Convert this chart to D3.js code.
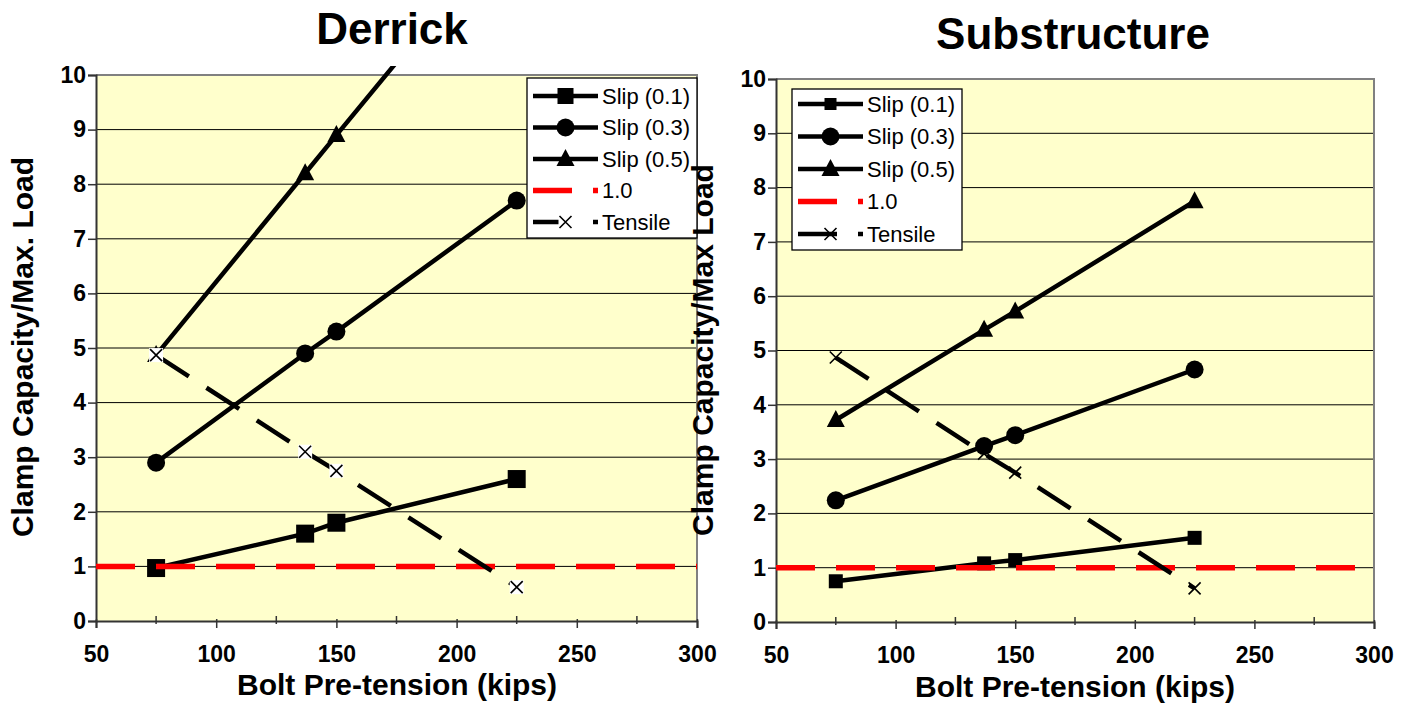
<!DOCTYPE html>
<html>
<head>
<meta charset="utf-8">
<script src="https://cdn.jsdelivr.net/npm/d3@7"></script>
<style>
  body { margin: 0; background: #fff; }
  text { font-family: Arial, "Liberation Sans", sans-serif; }
</style>
</head>
<body>
<div id="chart"></div>
<script>
// data
const boltPretension = [75, 137, 150, 225];
const derrickSlip01 = [0.97, 1.6, 1.8, 2.6];
const derrickSlip03 = [2.9, 4.9, 5.3, 7.7];
const derrickSlip05 = [4.87, 8.2, 8.9, 12.9];
const derrickTensile = [4.87, 3.1, 2.75, 0.62];
const subSlip01 = [0.75, 1.08, 1.14, 1.55];
const subSlip03 = [2.24, 3.24, 3.44, 4.65];
const subSlip05 = [3.72, 5.38, 5.72, 7.75];
const subTensile = [4.87, 3.1, 2.75, 0.62];
const refX = [50, 300];
const refY = [1, 1];
const seriesNames = ['Slip (0.1)', 'Slip (0.3)', 'Slip (0.5)', '1.0', 'Tensile'];
const xTickValues = [50, 100, 150, 200, 250, 300];
const xMinorTicks = [75, 125, 175, 225, 275];
const yTickValues = [0, 1, 2, 3, 4, 5, 6, 7, 8, 9, 10];

const svg = d3.select('#chart').append('svg')
  .attr('width', 1413)
  .attr('height', 704);

function marker(g, type, cx, cy, size, crossBg) {
  if (type === 'square') {
    g.append('rect')
      .attr('x', cx - size / 2).attr('y', cy - size / 2)
      .attr('width', size).attr('height', size)
      .style('fill', '#000');
  } else if (type === 'circle') {
    g.append('circle').attr('cx', cx).attr('cy', cy).attr('r', 9)
      .style('fill', '#000');
  } else if (type === 'triangle') {
    g.append('path')
      .attr('d', 'M' + cx + ',' + (cy - 10) + 'L' + (cx + 9) + ',' + (cy + 7) + 'L' + (cx - 9) + ',' + (cy + 7) + 'Z')
      .style('fill', '#000');
  } else if (type === 'cross') {
    if (crossBg) {
      g.append('rect')
        .attr('x', cx - 7).attr('y', cy - 7)
        .attr('width', 14).attr('height', 14)
        .style('fill', '#fff');
    }
    g.append('path')
      .attr('d', 'M' + (cx - 6) + ',' + (cy - 6) + 'L' + (cx + 6) + ',' + (cy + 6) +
                 'M' + (cx + 6) + ',' + (cy - 6) + 'L' + (cx - 6) + ',' + (cy + 6))
      .style('stroke', '#000').style('stroke-width', 1.6);
  }
}

function drawPanel(o) {
  const x = d3.scaleLinear().domain([50, 300]).range([o.x0, o.x1]);
  const y = d3.scaleLinear().domain([0, 10]).range([o.y1, o.y0]);
  const g = svg.append('g');

  g.append('rect')
    .attr('x', o.x0).attr('y', o.y0)
    .attr('width', o.x1 - o.x0).attr('height', o.y1 - o.y0)
    .style('fill', '#ffffcc');

  // gridlines
  g.selectAll('.grid')
    .data(yTickValues.filter(d => d > 0 && d < 10))
    .enter()
    .append('line')
    .attr('x1', o.x0).attr('x2', o.x1)
    .attr('y1', d => y(d)).attr('y2', d => y(d))
    .style('stroke', '#000').style('stroke-width', 1);

  // plot border
  g.append('path')
    .attr('d', 'M' + o.x0 + ',' + o.y0 + 'H' + o.x1 + 'V' + o.y1)
    .style('fill', 'none').style('stroke', '#808080').style('stroke-width', 2);

  // axes
  const yAxis = d3.axisLeft(y).tickValues(yTickValues).tickSize(8).tickFormat(d3.format('d'));
  const ya = g.append('g').attr('transform', 'translate(' + o.x0 + ',0)').call(yAxis);
  ya.select('.domain').style('stroke', '#333').style('stroke-width', 2);
  ya.selectAll('.tick line').style('stroke', '#333').style('stroke-width', 1.5);
  ya.selectAll('.tick text')
    .attr('x', -10)
    .style('font-size', '23px').style('font-weight', 'bold')
    .style('font-family', 'Arial, "Liberation Sans", sans-serif').style('fill', '#000');

  const xAxis = d3.axisBottom(x).tickValues(xTickValues).tickSize(7).tickFormat(d3.format('d'));
  const xa = g.append('g').attr('transform', 'translate(0,' + o.y1 + ')').call(xAxis);
  xa.select('.domain').style('stroke', '#333').style('stroke-width', 2);
  xa.selectAll('.tick line').attr('y1', -2).style('stroke', '#333').style('stroke-width', 1.5);
  xa.selectAll('.tick text')
    .attr('y', 0).attr('dy', '1.78em')
    .style('font-size', '23px').style('font-weight', 'bold')
    .style('font-family', 'Arial, "Liberation Sans", sans-serif').style('fill', '#000');
  xa.selectAll('.minor')
    .data(xMinorTicks)
    .enter()
    .append('line')
    .attr('x1', d => x(d)).attr('x2', d => x(d))
    .attr('y1', -5).attr('y2', 3)
    .style('stroke', '#333').style('stroke-width', 1.5);

  // clip
  const clipId = 'clip' + o.id;
  svg.append('clipPath').attr('id', clipId)
    .append('rect')
    .attr('x', o.x0).attr('y', o.y0 - 9)
    .attr('width', o.x1 - o.x0).attr('height', o.y1 - o.y0 + 20);

  const plot = g.append('g').attr('clip-path', 'url(#' + clipId + ')');
  const line = d3.line().x(d => x(d[0])).y(d => y(d[1]));

  o.series.forEach(s => {
    const pts = s.xs.map((v, i) => [v, s.ys[i]]);
    plot.append('path')
      .attr('d', line(pts))
      .style('fill', 'none')
      .style('stroke', s.color)
      .style('stroke-width', s.width)
      .style('stroke-dasharray', s.dash ? '39,21' : null);
    if (s.marker) {
      pts.forEach(p => {
        if (y(p[1]) < o.y0) return;
        marker(plot, s.marker, x(p[0]), y(p[1]), o.squareSize, o.crossBg);
      });
    }
  });

  // titles
  g.append('text')
    .attr('x', o.titleX).attr('y', o.titleY)
    .attr('text-anchor', 'middle')
    .style('font-size', '44px').style('font-weight', 'bold')
    .text(o.title);

  g.append('text')
    .attr('x', o.xlabelX).attr('y', o.xlabelY)
    .attr('text-anchor', 'middle')
    .style('font-size', '30px').style('font-weight', 'bold')
    .text('Bolt Pre-tension (kips)');

  // legend
  const L = o.legend;
  const lg = g.append('g').attr('id', 'legend' + o.id);
  lg.append('rect')
    .attr('x', L.x).attr('y', L.y)
    .attr('width', L.w).attr('height', L.h)
    .style('fill', '#fff').style('stroke', '#000').style('stroke-width', 1.3);

  o.series.forEach((s, i) => {
    const cy = L.row0 + i * L.step;
    const lx0 = L.x + 6, lx1 = L.x + 71;
    lg.append('line')
      .attr('x1', lx0).attr('x2', lx1)
      .attr('y1', cy).attr('y2', cy)
      .style('stroke', s.color)
      .style('stroke-width', s.width)
      .style('stroke-dasharray', s.dash ? '39,21' : null);
    if (s.marker) marker(lg, s.marker, (lx0 + lx1) / 2, cy, o.squareSize - 2, o.crossBg);
    lg.append('text')
      .attr('x', L.x + 75).attr('y', cy)
      .attr('dy', '0.36em')
      .style('font-size', '22px')
      .text(seriesNames[i]);
  });

  g.append('text')
    .attr('transform', 'translate(' + o.ylabelX + ',' + o.ylabelY + ') rotate(-90)')
    .attr('text-anchor', 'middle')
    .style('font-size', '30px').style('font-weight', 'bold')
    .text(o.ylabel);
}

function makeSeries(s01, s03, s05, tens) {
  return [
    { xs: boltPretension, ys: s01, marker: 'square', color: '#000', width: 4.5 },
    { xs: boltPretension, ys: s03, marker: 'circle', color: '#000', width: 4.5 },
    { xs: boltPretension, ys: s05, marker: 'triangle', color: '#000', width: 4.5 },
    { xs: refX, ys: refY, marker: null, color: '#ff0000', width: 5.5, dash: true },
    { xs: boltPretension, ys: tens, marker: 'cross', color: '#000', width: 4.5, dash: true }
  ];
}

drawPanel({
  id: 'L', x0: 96, x1: 697, y0: 75, y1: 621,
  title: 'Derrick', titleX: 392, titleY: 44,
  xlabelX: 397, xlabelY: 695,
  ylabel: 'Clamp Capacity/Max. Load', ylabelX: 33, ylabelY: 347,
  squareSize: 18, crossBg: true,
  legend: { x: 527, y: 78, w: 170, h: 160, row0: 96, step: 31.5 },
  series: makeSeries(derrickSlip01, derrickSlip03, derrickSlip05, derrickTensile)
});

drawPanel({
  id: 'R', x0: 776, x1: 1374, y0: 79, y1: 622,
  title: 'Substructure', titleX: 1073, titleY: 49,
  xlabelX: 1075, xlabelY: 697,
  ylabel: 'Clamp Capacity/Max Load', ylabelX: 713, ylabelY: 350,
  squareSize: 14, crossBg: false,
  legend: { x: 792, y: 89, w: 170, h: 161, row0: 104, step: 32.5 },
  series: makeSeries(subSlip01, subSlip03, subSlip05, subTensile)
});
</script>
</body>
</html>
